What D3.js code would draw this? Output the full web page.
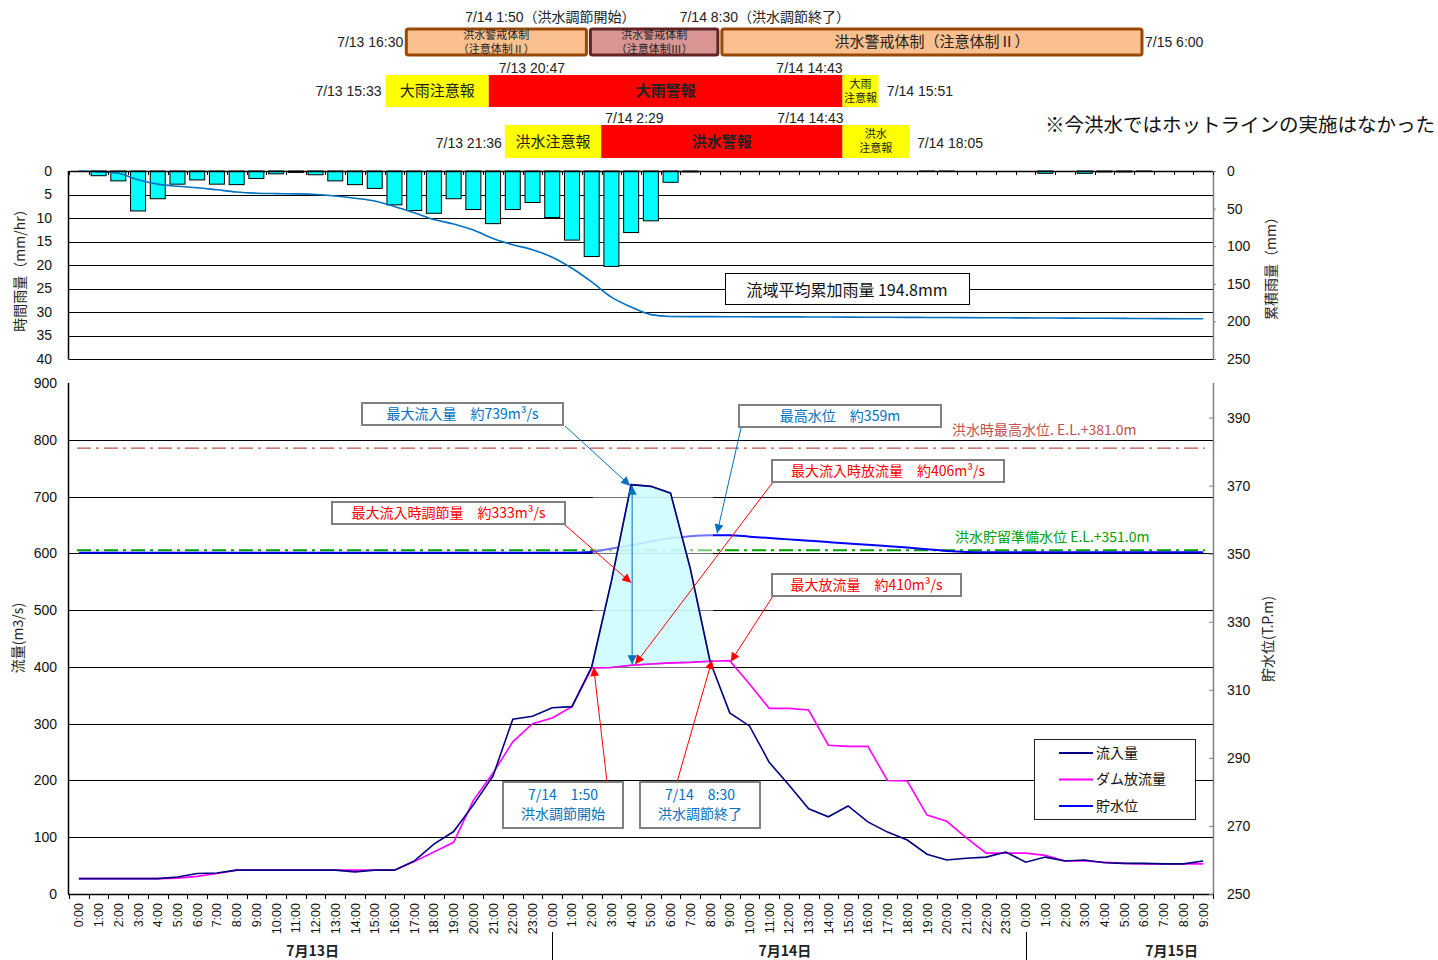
<!DOCTYPE html>
<html><head><meta charset="utf-8">
<script src="https://cdn.jsdelivr.net/npm/d3@7"></script>
<style>
body{margin:0;background:#fff;}
svg{display:block;font-family:"Liberation Sans","Noto Sans CJK JP",sans-serif;}
</style></head><body><svg id="c" width="1438" height="960"></svg>
<script>
// ---------------- DATA ----------------
const hourLabels = ["0:00","1:00","2:00","3:00","4:00","5:00","6:00","7:00","8:00","9:00","10:00","11:00","12:00","13:00","14:00","15:00","16:00","17:00","18:00","19:00","20:00","21:00","22:00","23:00",
"0:00","1:00","2:00","3:00","4:00","5:00","6:00","7:00","8:00","9:00","10:00","11:00","12:00","13:00","14:00","15:00","16:00","17:00","18:00","19:00","20:00","21:00","22:00","23:00",
"0:00","1:00","2:00","3:00","4:00","5:00","6:00","7:00","8:00","9:00"];
const dayLabels = ["7月13日","7月14日","7月15日"];
const dayLabelHours = [11.85, 35.8, 55.4];
const daySeparatorHours = [24, 48];

const rainHourly = [0,1.0,2.1,8.5,5.9,2.8,1.9,2.8,2.9,1.6,0.6,0.3,0.8,2.1,2.9,3.7,7.2,8.4,9.0,5.9,8.2,11.2,8.2,6.7,
9.9,14.7,18.2,20.3,13.1,10.6,2.4,0.2,0,0,0,0,0,0,0,0,0,0,0,0.1,0.1,0,0,0,
0,0.5,0,0.5,0.2,0.2,0.1,0,0,0];
const rainCumulative = [0,1.0,3.1,11.6,17.5,20.3,22.2,25.0,27.9,29.5,30.1,30.4,31.2,33.3,36.2,39.9,47.1,55.5,64.5,70.4,78.6,89.8,98.0,104.7,
114.6,129.3,147.5,167.8,180.9,191.0,193.4,193.6,193.7,193.8,193.9,194.0,194.0,194.1,194.2,194.3,194.4,194.5,194.6,194.8,194.9,195.0,195.1,195.2,
195.3,195.5,195.6,195.8,195.9,196.0,196.2,196.3,196.4,196.5];
const inflow = [27,27,27,27,27,30,36,37,42,42,42,42,42,42,39,42,42,58,88,110,157,208,308,313,
328,330,400,551,721,718,706,573,410,319,296,232,192,150,136,155,127,109,95,70,60,63,65,74,
56,65,58,60,55,54,54,53,53,58];
const outflow = [27,27,27,27,27,28,31,36,42,42,42,42,42,42,42,42,42,57,74,91,165,213,268,300,
310,330,398,399,403,405,407,408,410,411,370,327,327,324,262,260,260,200,199,139,128,99,72,72,
72,68,58,58,56,54,53,53,53,53];
const waterLevel = [350.3,350.3,350.3,350.3,350.3,350.3,350.3,350.3,350.3,350.3,350.3,350.3,350.3,350.3,350.3,350.3,350.3,350.3,350.3,350.3,350.3,350.3,350.3,350.3,
350.3,350.3,350.5,351.5,352.5,353.6,354.5,355.1,355.4,355.4,355.0,354.6,354.2,353.8,353.4,353.0,352.6,352.2,351.8,351.3,350.8,350.5,350.4,350.4,
350.4,350.4,350.4,350.4,350.4,350.4,350.4,350.4,350.4,350.4];
const floodPeakRange = [26, 32];
const maxWaterLevelRef = 381.0;
const floodStorageLevelRef = 351.0;

const rainTicks = [0,5,10,15,20,25,30,35,40];
const cumTicks = [0,50,100,150,200,250];
const flowTicks = [0,100,200,300,400,500,600,700,800,900];
const levelTicks = [250,270,290,310,330,350,370,390];

const stageBars = [
  {s:16.5, e:25.833, fill:"#FAC090", stroke:"#984807", lines:["洪水警戒体制","（注意体制Ⅱ）"], small:true},
  {s:25.833, e:32.5, fill:"#D99594", stroke:"#632423", lines:["洪水警戒体制","（注意体制Ⅲ）"], small:true},
  {s:32.5, e:54.0, fill:"#FAC090", stroke:"#984807", lines:["洪水警戒体制（注意体制Ⅱ）"], small:false}
];
const rainAlerts = [
  {s:15.55, e:20.783, fill:"#FFFF00", lines:["大雨注意報"], bold:false, small:false},
  {s:20.783, e:38.717, fill:"#FF0000", lines:["大雨警報"], bold:true, small:false},
  {s:38.717, e:39.85, fill:"#FFFF00", lines:["大雨","注意報"], bold:false, small:true}
];
const floodAlerts = [
  {s:21.6, e:26.483, fill:"#FFFF00", lines:["洪水注意報"], bold:false, small:false},
  {s:26.483, e:38.717, fill:"#FF0000", lines:["洪水警報"], bold:true, small:false},
  {s:38.717, e:42.083, fill:"#FFFF00", lines:["洪水","注意報"], bold:false, small:true}
];

// ---------------- SCALES ----------------
const svg = d3.select("#c");
const X0 = 69, X1 = 1213;
const n = hourLabels.length;
const xCat = d3.scaleBand().domain(d3.range(n)).range([X0, X1]).padding(0);
const xBar = d3.scaleBand().domain(d3.range(n)).range([X0, X1]).paddingInner(0.24).paddingOuter(0.12);
const cx = i => xCat(i) + xCat.bandwidth() / 2;
const xTime = d3.scaleLinear().domain([-0.5, n - 0.5]).range([X0, X1]);
const yRain = d3.scaleLinear().domain([0, 40]).range([171, 359]);
const yCum = d3.scaleLinear().domain([0, 250]).range([171, 359]);
const yQ = d3.scaleLinear().domain([0, 900]).range([894, 383]);
const yH = d3.scaleLinear().domain([250, 400]).range([894, 383.5]);
const crisp = v => Math.round(v) + 0.5;

const JP = '"Noto Sans CJK JP", sans-serif';
const defs = svg.append("defs");
function marker(id, color) {
  defs.append("marker").attr("id", id).attr("viewBox", "0 0 10 10").attr("refX", 10).attr("refY", 5)
    .attr("markerWidth", 11).attr("markerHeight", 9).attr("markerUnits", "userSpaceOnUse")
    .attr("orient", "auto-start-reverse")
    .append("path").attr("d", "M0,0 L10,5 L0,10 Z").attr("fill", color);
}
marker("arB", "#0070C0");
marker("arR", "#FF0000");

// ---------------- BANNERS ----------------
const ban = svg.append("g");
function drawRow(items, y, h, opts) {
  items.forEach(d => {
    let x0 = xTime(d.s), x1 = xTime(d.e);
    if (x1 - x0 < 36) x1 = x0 + 36;
    const inset = opts.inset || 0;
    ban.append("rect").attr("x", x0 + inset).attr("y", y).attr("width", x1 - x0 - 2 * inset).attr("height", h)
      .attr("fill", d.fill).attr("stroke", d.stroke || "none").attr("stroke-width", d.stroke ? 3 : 0)
      .attr("rx", d.stroke ? 2 : 0);
    const fs = d.small ? 11 : 15;
    const t = ban.append("text").attr("x", (x0 + x1) / 2).attr("text-anchor", "middle")
      .style("font-family", JP).style("font-size", fs + "px").style("font-weight", d.bold ? "bold" : "normal").attr("fill", "#222");
    const lh = d.small ? 14 : 0;
    const mid = y + h / 2;
    d.lines.forEach((ln, k) => {
      t.append("tspan").attr("x", (x0 + x1) / 2).attr("y", mid + (k - (d.lines.length - 1) / 2) * lh).attr("dy", "0.35em").text(ln);
    });
  });
}
drawRow(stageBars, 29, 26, {inset: 2});
drawRow(rainAlerts, 75, 32, {});
drawRow(floodAlerts, 125, 33, {});

const hdr = [
  {t:"7/14 1:50（洪水調節開始）", x:xTime(25.833) - 38, y:17, a:"middle"},
  {t:"7/14 8:30（洪水調節終了）", x:xTime(32.5) + 45, y:17, a:"middle"},
  {t:"7/13 16:30", x:xTime(16.5) - 1, y:42, a:"end"},
  {t:"7/15 6:00", x:xTime(54.0) + 1, y:42, a:"start"},
  {t:"7/13 20:47", x:xTime(20.783) + 10, y:68, a:"start"},
  {t:"7/14 14:43", x:xTime(38.717), y:68, a:"end"},
  {t:"7/13 15:33", x:xTime(15.55) - 4, y:91, a:"end"},
  {t:"7/14 15:51", x:xTime(39.85) + 22, y:91, a:"start"},
  {t:"7/14 2:29", x:xTime(26.483) + 4, y:118, a:"start"},
  {t:"7/14 14:43", x:xTime(38.717) + 1, y:118, a:"end"},
  {t:"7/13 21:36", x:xTime(21.6) - 3, y:143, a:"end"},
  {t:"7/14 18:05", x:xTime(42.083) + 8, y:143, a:"start"}
];
hdr.forEach(d => ban.append("text").attr("x", d.x).attr("y", d.y).attr("dy", "0.35em").attr("text-anchor", d.a)
  .style("font-size", "14px").attr("fill", "#222").text(d.t));
svg.append("text").attr("x", 1045).attr("y", 125).attr("dy", "0.35em").style("font-family", JP).style("font-size", "19.5px")
  .attr("fill", "#111").text("※今洪水ではホットラインの実施はなかった");

// ---------------- RAIN CHART ----------------
const gr = svg.append("g");
rainTicks.slice(1).forEach(v => gr.append("line").attr("x1", X0).attr("x2", X1)
  .attr("y1", crisp(yRain(v))).attr("y2", crisp(yRain(v))).attr("stroke", "#000").attr("stroke-width", 1));
gr.selectAll("rect.bar").data(rainHourly).join("rect").attr("class", "bar")
  .attr("x", (d, i) => xBar(i)).attr("width", xBar.bandwidth())
  .attr("y", yRain(0)).attr("height", d => yRain(d) - yRain(0))
  .attr("fill", "#00FFFF").attr("stroke", "#000").attr("stroke-width", 1)
  .attr("display", d => d > 0 ? null : "none");
gr.append("path").datum(rainCumulative)
  .attr("d", d3.line().x((d, i) => cx(i)).y(d => yCum(d)).curve(d3.curveMonotoneX))
  .attr("fill", "none").attr("stroke", "#0070C0").attr("stroke-width", 1.6);
gr.append("line").attr("x1", X0 - 0.5).attr("x2", X0 - 0.5).attr("y1", 171).attr("y2", 359.5).attr("stroke", "#000").attr("stroke-width", 1.5);
gr.append("line").attr("x1", X0).attr("x2", X1).attr("y1", 171.5).attr("y2", 171.5).attr("stroke", "#000").attr("stroke-width", 1.5);
gr.append("line").attr("x1", X1 + 0.5).attr("x2", X1 + 0.5).attr("y1", 171).attr("y2", 359.5).attr("stroke", "#808080").attr("stroke-width", 1.5);
d3.range(n + 1).forEach(i => gr.append("line").attr("x1", crisp(X0 + i * xCat.step())).attr("x2", crisp(X0 + i * xCat.step()))
  .attr("y1", 171).attr("y2", 175).attr("stroke", "#000"));
const axL = gr.append("g").attr("transform", `translate(${X0},0)`)
  .call(d3.axisLeft(yRain).tickValues(rainTicks).tickSize(0).tickPadding(17));
axL.select(".domain").remove();
axL.selectAll("text").style("font-size", "14px").attr("fill", "#111").style("font-family", "Liberation Sans");
const axR = gr.append("g").attr("transform", `translate(${X1},0)`)
  .call(d3.axisRight(yCum).tickValues(cumTicks).tickSize(3).tickPadding(11));
axR.select(".domain").remove();
axR.selectAll("line").attr("stroke", "#808080");
axR.selectAll("text").style("font-size", "14px").attr("fill", "#111").style("font-family", "Liberation Sans");
svg.append("text").attr("transform", "translate(20,267) rotate(-90)").attr("text-anchor", "middle").attr("dy", "0.35em")
  .style("font-family", JP).style("font-size", "14px").attr("fill", "#222").text("時間雨量（mm/hr）");
svg.append("text").attr("transform", "translate(1271,265) rotate(-90)").attr("text-anchor", "middle").attr("dy", "0.35em")
  .style("font-family", JP).style("font-size", "14px").attr("fill", "#222").text("累積雨量（mm）");
gr.append("rect").attr("x", 725.5).attr("y", 273.5).attr("width", 244).attr("height", 31).attr("fill", "#fff").attr("stroke", "#000");
gr.append("text").attr("x", 847).attr("y", 290).attr("dy", "0.35em").attr("text-anchor", "middle")
  .style("font-family", JP).style("font-size", "16px").attr("fill", "#111").text("流域平均累加雨量 194.8mm");

// ---------------- FLOW CHART ----------------
const gf = svg.append("g");
flowTicks.slice(1, -1).forEach(v => gf.append("line").attr("x1", X0).attr("x2", X1)
  .attr("y1", crisp(yQ(v))).attr("y2", crisp(yQ(v))).attr("stroke", "#000").attr("stroke-width", 1));
gf.append("line").attr("x1", X0 + 8).attr("x2", X1 - 8).attr("y1", yH(maxWaterLevelRef)).attr("y2", yH(maxWaterLevelRef))
  .attr("stroke", "#C0504D").attr("stroke-width", 1.2).attr("stroke-dasharray", "14,5,3,5");
gf.append("text").attr("x", 952).attr("y", yH(maxWaterLevelRef) - 18).attr("dy", "0.35em")
  .style("font-family", JP).style("font-size", "14px").attr("fill", "#C0504D").text("洪水時最高水位. E.L.+381.0m");
gf.append("line").attr("x1", X0 + 8).attr("x2", X1 - 8).attr("y1", yH(floodStorageLevelRef)).attr("y2", yH(floodStorageLevelRef))
  .attr("stroke", "#00A000").attr("stroke-width", 2).attr("stroke-dasharray", "14,5,3,5");
gf.append("text").attr("x", 955).attr("y", yH(floodStorageLevelRef) - 13).attr("dy", "0.35em")
  .style("font-family", JP).style("font-size", "14px").attr("fill", "#00A000").text("洪水貯留準備水位 E.L.+351.0m");

const lineQ = d3.line().x((d, i) => cx(i)).y(d => yQ(d));
gf.append("path").datum(waterLevel)
  .attr("d", d3.line().x((d, i) => cx(i)).y(d => yH(d)).curve(d3.curveMonotoneX))
  .attr("fill", "none").attr("stroke", "#0000FF").attr("stroke-width", 2);

const [a0, a1] = floodPeakRange;
gf.append("rect").attr("x", cx(a0) + 1).attr("y", yQ(722)).attr("width", cx(a1) - cx(a0) + 2).attr("height", yQ(398) - yQ(722))
  .attr("fill", "#fff").attr("opacity", 0.45);
const poly = [];
for (let i = a0; i <= a1; i++) poly.push([cx(i), yQ(inflow[i])]);
for (let i = a1; i >= a0; i--) poly.push([cx(i), yQ(outflow[i])]);
gf.append("path").attr("d", "M" + poly.join("L") + "Z").attr("fill", "#CCFCFF").attr("opacity", 0.85)
  .attr("stroke", "#6a6a9a").attr("stroke-width", 1.5);

gf.append("path").datum(outflow).attr("d", lineQ).attr("fill", "none").attr("stroke", "#FF00FF").attr("stroke-width", 1.6);
gf.append("path").datum(inflow).attr("d", lineQ).attr("fill", "none").attr("stroke", "#000080").attr("stroke-width", 1.6);

gf.append("line").attr("x1", X0 - 0.5).attr("x2", X0 - 0.5).attr("y1", 383).attr("y2", 894).attr("stroke", "#000").attr("stroke-width", 1.5);
gf.append("line").attr("x1", X0 - 1).attr("x2", X1 + 1).attr("y1", 894.5).attr("y2", 894.5).attr("stroke", "#000").attr("stroke-width", 1.5);
gf.append("line").attr("x1", X1 + 0.5).attr("x2", X1 + 0.5).attr("y1", 383).attr("y2", 894).attr("stroke", "#808080").attr("stroke-width", 1.5);
d3.range(n + 1).forEach(i => gf.append("line").attr("x1", crisp(X0 + i * xCat.step())).attr("x2", crisp(X0 + i * xCat.step()))
  .attr("y1", 894).attr("y2", 899).attr("stroke", "#000"));
const axQ = gf.append("g").attr("transform", `translate(${X0},0)`)
  .call(d3.axisLeft(yQ).tickValues(flowTicks).tickSize(0).tickPadding(12));
axQ.select(".domain").remove();
axQ.selectAll("text").style("font-size", "14px").attr("fill", "#111").style("font-family", "Liberation Sans");
const axH = gf.append("g").attr("transform", `translate(${X1},0)`)
  .call(d3.axisRight(yH).tickValues(levelTicks).tickSizeInner(-4).tickSizeOuter(0).tickPadding(14));
axH.select(".domain").remove();
axH.selectAll("line").attr("stroke", "#808080");
axH.selectAll("text").style("font-size", "14px").attr("fill", "#111").style("font-family", "Liberation Sans");
svg.append("text").attr("transform", "translate(18,638) rotate(-90)").attr("text-anchor", "middle").attr("dy", "0.35em")
  .style("font-family", JP).style("font-size", "14px").attr("fill", "#222").text("流量(m3/s)");
svg.append("text").attr("transform", "translate(1268,639) rotate(-90)").attr("text-anchor", "middle").attr("dy", "0.35em")
  .style("font-family", JP).style("font-size", "14px").attr("fill", "#222").text("貯水位(T.P.m)");

gf.selectAll("text.hr").data(hourLabels).join("text").attr("class", "hr")
  .attr("transform", (d, i) => `translate(${cx(i) + 4.5},903) rotate(-90)`)
  .attr("text-anchor", "end").style("font-size", "12.5px").style("font-family", "Liberation Sans").attr("fill", "#111").text(d => d);
dayLabels.forEach((d, k) => gf.append("text").attr("x", xTime(dayLabelHours[k])).attr("y", 951).attr("dy", "0.35em")
  .attr("text-anchor", "middle").style("font-family", JP).style("font-size", "14px").style("font-weight", "bold").attr("fill", "#222").text(d));
daySeparatorHours.forEach(h => gf.append("line").attr("x1", crisp(cx(h))).attr("x2", crisp(cx(h))).attr("y1", 932).attr("y2", 960)
  .attr("stroke", "#000"));

const lg = svg.append("g");
lg.append("rect").attr("x", 1034.5).attr("y", 739.5).attr("width", 161).attr("height", 80).attr("fill", "#fff").attr("stroke", "#222");
[["流入量", "#000080"], ["ダム放流量", "#FF00FF"], ["貯水位", "#0000FF"]].forEach((e, k) => {
  const y = 753 + k * 26.5;
  lg.append("line").attr("x1", 1059).attr("x2", 1093).attr("y1", y).attr("y2", y).attr("stroke", e[1]).attr("stroke-width", 2);
  lg.append("text").attr("x", 1096).attr("y", y).attr("dy", "0.35em").style("font-family", JP).style("font-size", "14px")
    .attr("fill", "#111").text(e[0]);
});

// ---------------- ANNOTATIONS ----------------
const an = svg.append("g");
function callout(x, y, w, h, lines, color) {
  an.append("rect").attr("x", x).attr("y", y).attr("width", w).attr("height", h).attr("fill", "#fff")
    .attr("stroke", "#808080").attr("stroke-width", 2);
  const t = an.append("text").attr("text-anchor", "middle").style("font-family", JP).style("font-size", "14px").attr("fill", color);
  lines.forEach((ln, k) => {
    t.append("tspan").attr("x", x + w / 2).attr("y", y + h / 2 + (k - (lines.length - 1) / 2) * 19).attr("dy", "0.35em").text(ln);
  });
}
function arrow(x1, y1, x2, y2, color, id, both) {
  const l = an.append("line").attr("x1", x1).attr("y1", y1).attr("x2", x2).attr("y2", y2).attr("stroke", color).attr("stroke-width", 1)
    .attr("marker-end", `url(#${id})`);
  if (both) l.attr("marker-start", `url(#${id})`);
}
const BLUE = "#0070C0", RED = "#FF0000";
arrow(565, 426, cx(28) - 1, yQ(inflow[28]) + 1, BLUE, "arB");
arrow(741, 428, cx(32) + 7, yH(355.4) - 2, BLUE, "arB");
arrow(cx(28) + 1, yQ(inflow[28]) + 1, cx(28) + 1, yQ(outflow[28]) - 1, BLUE, "arB", true);
arrow(565, 525, cx(28), yQ(548), RED, "arR");
arrow(773, 482, cx(28) + 4, yQ(outflow[28]) - 1, RED, "arR");
arrow(773, 596, cx(33) + 1, yQ(outflow[33]) + 1, RED, "arR");
arrow(607, 782, cx(26) + 2, yQ(outflow[26]) - 1, RED, "arR");
arrow(677, 782, cx(32) + 2, yQ(outflow[32]) - 1, RED, "arR");

callout(362, 403, 201, 22, ["最大流入量　約739m³/s"], BLUE);
callout(739, 405, 202, 22, ["最高水位　約359m"], BLUE);
callout(772, 460, 232, 22, ["最大流入時放流量　約406m³/s"], RED);
callout(332, 502, 233, 22, ["最大流入時調節量　約333m³/s"], RED);
callout(772, 574, 189, 22, ["最大放流量　約410m³/s"], RED);
callout(503, 782, 120, 46, ["7/14　1:50", "洪水調節開始"], BLUE);
callout(640, 782, 120, 46, ["7/14　8:30", "洪水調節終了"], BLUE);
</script></body></html>
